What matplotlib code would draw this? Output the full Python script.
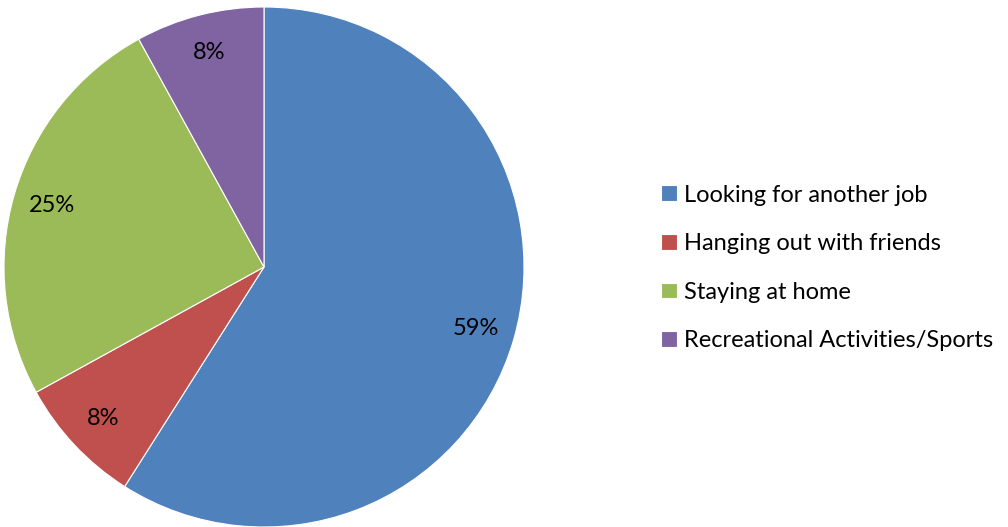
import matplotlib.pyplot as plt

labels = ['Looking for another job', 'Hanging out with friends',
          'Staying at home', 'Recreational Activities/Sports']
values = [59, 8, 25, 8]
colors = ['#4F81BD', '#C0504D', '#9BBB59', '#8064A2']

plt.rcParams['font.family'] = ['Lato', 'DejaVu Sans']

fig = plt.figure(figsize=(10.08, 5.27), dpi=100)
ax = fig.add_axes([4 / 1008, 0.0, 520 / 1008, 520 / 527])

wedges, texts, autotexts = ax.pie(
    values, colors=colors, startangle=90, counterclock=False,
    autopct='%1.0f%%', pctdistance=0.85,
    wedgeprops=dict(edgecolor='white', linewidth=0.8),
    textprops=dict(fontsize=17, color='black'))
ax.set_xlim(-1, 1)
ax.set_ylim(-1, 1)
ax.set_aspect('equal')

fig.legend(wedges, labels, loc='center left', bbox_to_anchor=(652 / 1008, 1 - 268 / 527),
           frameon=False, fontsize=17, handlelength=0.65, handleheight=0.65,
           handletextpad=0.3, labelspacing=1.17, borderaxespad=0)

fig.savefig('out.png', dpi=100)
